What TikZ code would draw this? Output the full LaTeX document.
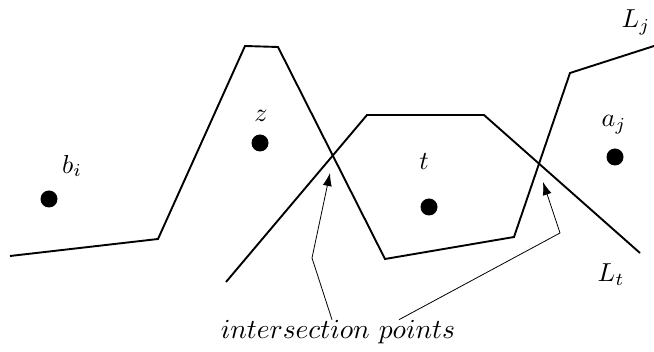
\documentclass[tikz,border=0pt]{standalone}
\usetikzlibrary{arrows.meta}
\begin{document}
\begin{tikzpicture}[x=1pt,y=-1pt,
  curve/.style={line width=1.9pt,line join=miter},
  dot/.style={circle,fill=black,inner sep=0pt,minimum size=17pt},
  lbl/.style={inner sep=0pt,scale=2.6},
  pointer/.style={line width=0.8pt,-{Latex[length=13pt,width=9pt]}}]
\useasboundingbox (0,0) rectangle (654,352);
% L_j
\draw[curve] (10,256) -- (158,239) -- (245,46) -- (278,47) -- (385,259) -- (514,237) -- (570,73) -- (654,46);
% L_t
\draw[curve] (226,282) -- (367,115) -- (484,115) -- (640,253);
% points
\node[dot] (b) at (49,199) {};
\node[dot] (z) at (260,143) {};
\node[dot] (t) at (429,207) {};
\node[dot] (a) at (615,157) {};
\node[lbl] (bl) at (72,166) {$b_i$};
\node[lbl] (zl) at (261,116) {$z$};
\node[lbl] (tl) at (424,162) {$t$};
\node[lbl] (al) at (614,125) {$a_j$};
\node[lbl] (Lj) at (636,22) {$L_j$};
\node[lbl] (Lt) at (611,275) {$L_t$};
\node[lbl,scale=1.06] (ip) at (338,332) {$intersection\ points$};
\coordinate (c1) at (312,258);
\coordinate (c2) at (560,233);
\coordinate (e1) at (330,173);
\coordinate (e2) at (543,182);
\draw[pointer] (ip.north -| 332,0) -- (c1) -- (e1);
\draw[pointer] (ip.north -| 399,0) -- (c2) -- (e2);
\end{tikzpicture}
\end{document}
